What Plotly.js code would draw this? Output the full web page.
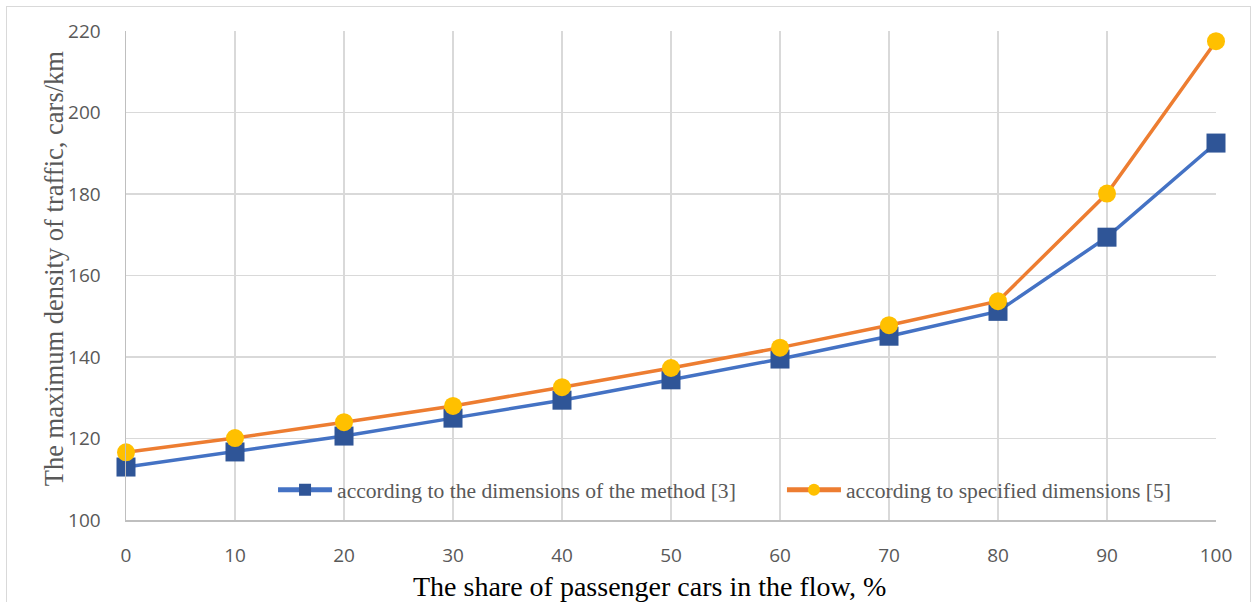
<!DOCTYPE html>
<html>
<head>
<meta charset="utf-8">
<script src="https://cdn.plot.ly/plotly-3.0.1.min.js"></script>
<style>
html,body{margin:0;padding:0;background:#fff;}
#chart{width:1255px;height:602px;}
#frame{position:absolute;left:6px;top:6px;width:1243px;height:610px;border:1px solid #d9d9d9;pointer-events:none;}
</style>
</head>
<body>
<div id="chart"></div>
<div id="frame"></div>
<script>
const shares = [0, 10, 20, 30, 40, 50, 60, 70, 80, 90, 100];
const methodDims = [113.0, 116.7, 120.6, 125.0, 129.4, 134.4, 139.5, 145.1, 151.2, 169.4, 192.5];
const specifiedDims = [116.6, 120.1, 124.0, 128.0, 132.6, 137.3, 142.3, 147.8, 153.7, 180.1, 217.5];
const nameMethod = 'according to the dimensions of the method [3]';
const nameSpecified = 'according to specified dimensions [5]';
const xTitle = 'The share of passenger cars in the flow, %';
const yTitle = 'The maximum density of traffic, cars/km';
const yTicks = [100, 120, 140, 160, 180, 200, 220];

const traces = [
  {x: shares, y: methodDims, name: nameMethod, type: 'scatter', mode: 'lines+markers',
   cliponaxis: false, legend: 'legend',
   line: {color: '#4472C4', width: 3.5},
   marker: {symbol: 'square', size: 19, color: '#2F5597'}},
  {x: shares, y: specifiedDims, name: nameSpecified, type: 'scatter', mode: 'lines+markers',
   cliponaxis: false, legend: 'legend2',
   line: {color: '#ED7D31', width: 3.5},
   marker: {symbol: 'circle', size: 18, color: '#FFC000'}}
];

const legendFont = {family: 'Liberation Serif, Times New Roman, serif', size: 21.6, color: '#595959'};

const layout = {
  width: 1255, height: 602,
  margin: {l: 126, r: 39, t: 31, b: 82},
  paper_bgcolor: '#fff', plot_bgcolor: '#fff',
  showlegend: true,
  legend: {orientation: 'h', x: 0.1349, y: 0.061, xanchor: 'left', yanchor: 'middle',
    font: legendFont, bgcolor: 'rgba(0,0,0,0)', itemwidth: 54, itemsizing: 'constant'},
  legend2: {orientation: 'h', x: 0.6018, y: 0.061, xanchor: 'left', yanchor: 'middle',
    font: legendFont, bgcolor: 'rgba(0,0,0,0)', itemwidth: 54, itemsizing: 'constant'},
  xaxis: {
    range: [0, 100], tickvals: shares, ticktext: shares.map(String),
    showgrid: true, gridcolor: '#d9d9d9', gridwidth: 1.5,
    showline: true, linecolor: '#bfbfbf', linewidth: 1.5, zeroline: false,
    ticks: '', ticklen: 0, ticklabelstandoff: 18,
    tickfont: {family: 'Open Sans, Liberation Sans, sans-serif', size: 19, color: '#595959'}
  },
  yaxis: {
    range: [100, 220], tickvals: yTicks, ticktext: yTicks.map(String),
    showgrid: true, gridcolor: '#d9d9d9', gridwidth: 1.5,
    showline: true, linecolor: '#bfbfbf', linewidth: 1.5, zeroline: false,
    ticks: '', ticklen: 0, ticklabelstandoff: 20,
    tickfont: {family: 'Open Sans, Liberation Sans, sans-serif', size: 19, color: '#595959'}
  },
  annotations: [
    {text: xTitle, xref: 'paper', yref: 'paper', x: 0.48, y: -0.137,
     xanchor: 'center', yanchor: 'middle', showarrow: false,
     font: {family: 'Liberation Serif, Times New Roman, serif', size: 28, color: '#000'}},
    {text: yTitle, xref: 'paper', yref: 'paper', x: -0.066, y: 0.515, textangle: -90,
     xanchor: 'center', yanchor: 'middle', showarrow: false,
     font: {family: 'Liberation Serif, Times New Roman, serif', size: 26.5, color: '#595959'}}
  ]
};

Plotly.newPlot('chart', traces, layout, {displayModeBar: false, staticPlot: true});
</script>
</body>
</html>
